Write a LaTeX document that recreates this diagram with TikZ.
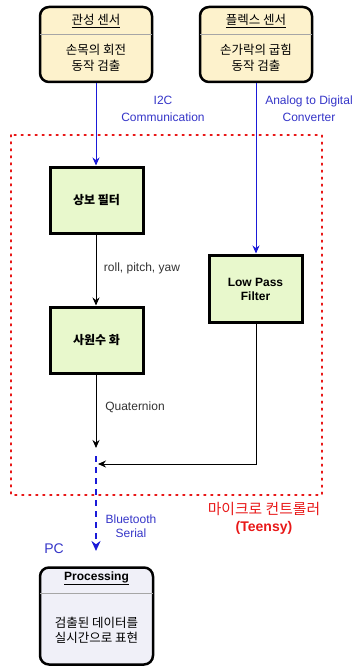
\documentclass[tikz,border=0pt]{standalone}
\usepackage{fontspec}
\setmainfont{Liberation Sans}
\newfontfamily\kr{Noto Sans CJK KR}
\usetikzlibrary{arrows.meta}
\definecolor{boxyellow}{HTML}{FDF2CC}
\definecolor{boxgreen}{HTML}{E8F8CC}
\definecolor{boxlav}{HTML}{F0F0F8}
\definecolor{linkblue}{HTML}{1A1AD8}
\definecolor{lblblue}{HTML}{3535C8}
\definecolor{mcured}{HTML}{E81818}
\tikzset{
  sensorbox/.style={draw=black, line width=2.5pt, rounded corners=9pt, fill=boxyellow,
    minimum width=112pt, minimum height=75pt, inner sep=0pt},
  pcbox/.style={draw=black, line width=2.5pt, rounded corners=9pt, fill=boxlav,
    minimum width=113pt, minimum height=97pt, inner sep=0pt},
  stagebox/.style={draw=black, line width=3pt, fill=boxgreen,
    minimum width=93pt, minimum height=66pt, inner sep=0pt},
  sepline/.style={draw=gray!70, line width=0.9pt},
  kt/.style={font=\kr\fontsize{12.5}{16}\selectfont, align=center, inner sep=0pt},
  ktb/.style={font=\kr\bfseries\fontsize{12}{16}\selectfont, align=center, inner sep=0pt},
  lt/.style={font=\fontsize{12}{16}\selectfont, align=center, inner sep=0pt, text=black!80},
  ltb/.style={font=\bfseries\fontsize{12}{14}\selectfont, align=center, inner sep=0pt},
  bluelbl/.style={font=\fontsize{12}{16.5}\selectfont, align=center, inner sep=0pt, text=lblblue},
  bluelink/.style={draw=linkblue, line width=1pt, -{Stealth[length=8pt,width=7pt]}},
  blacklink/.style={draw=black, line width=1pt, -{Stealth[length=8pt,width=7pt]}},
  btlink/.style={draw=linkblue, line width=2pt, dash pattern=on 6pt off 5pt, -{Stealth[length=10pt,width=9pt]}},
  mcuframe/.style={draw=mcured, line width=1.8pt, dash pattern=on 1.6pt off 5.4pt, line cap=round},
}
\begin{document}
\begin{tikzpicture}[x=1pt,y=-1pt]
\useasboundingbox (0,0) rectangle (354,666);

% microcontroller frame
\draw[mcuframe] (11,135) rectangle (322,495);
\node[font=\kr\fontsize{14.8}{16}\selectfont, text=mcured, inner sep=0pt] (mcu1) at (264,509) {마이크로 컨트롤러};
\node[font=\bfseries\fontsize{14}{16}\selectfont, text=mcured, inner sep=0pt] (mcu2) at (264,528) {(Teensy)};

% sensors
\node[sensorbox] (s1) at (96,44.5) {};
\draw[sepline] (40,34) -- (152,34);
\node[kt] (s1t) at (96,21) {\underline{관성 센서}};
\node[kt] (s1b) at (96,58) {손목의 회전\\동작 검출};

\node[sensorbox] (s2) at (256,44.5) {};
\draw[sepline] (200,34) -- (312,34);
\node[kt] (s2t) at (256,21) {\underline{플렉스 센서}};
\node[kt] (s2b) at (256,58) {손가락의 굽힘\\동작 검출};

% stages
\node[stagebox] (f1) at (96.5,200) {};
\node[ktb] (f1t) at (96.5,200) {상보 필터};
\node[stagebox] (q) at (96.5,340) {};
\node[ktb] (qt) at (96.5,340) {사원수 화};
\node[stagebox, minimum height=67pt] (lpf) at (255.5,288.5) {};
\node[ltb] (lpft) at (255.5,289) {Low Pass\\Filter};

% PC box
\node[pcbox] (pc) at (96.5,616) {};
\draw[sepline] (40,593) -- (153,593);
\node[ltb] (pct) at (96.5,578) {\underline{Processing}};
\node[kt, font=\kr\fontsize{12.5}{15}\selectfont] (pcb) at (96.5,630) {검출된 데이터를\\실시간으로 표현};
\node[font=\fontsize{14}{16}\selectfont, text=lblblue, inner sep=0pt] (pclbl) at (54,549) {PC};

% coordinates
\coordinate (qend) at (96,448);
\coordinate (jn) at (98,464);
\coordinate (lpfturn) at (256,464);
\coordinate (btstart) at (96,456);
\coordinate (btend) at (96,551);

% connectors
\draw[bluelink] (s1.south -| 96,0) -- (f1.north -| 96,0);
\node[bluelbl] (i2c) at (163,109) {I2C\\Communication};
\draw[bluelink] (s2.south -| 256,0) -- (lpf.north -| 256,0);
\node[bluelbl] (adc) at (309,108.5) {Analog to Digital\\Converter};

\draw[blacklink] (f1.south -| 96,0) -- (q.north -| 96,0);
\node[lt] (rpy) at (142,268) {roll, pitch, yaw};
\draw[blacklink] (q.south -| 96,0) -- (qend);
\node[lt] (quat) at (135,407) {Quaternion};
\draw[blacklink] (lpf.south -| 256,0) -- (lpfturn) -- (jn);

\draw[btlink] (btstart) -- (btend);
\node[bluelbl, font=\fontsize{12}{14.5}\selectfont] (bt) at (131,526) {Bluetooth\\Serial};
\end{tikzpicture}
\end{document}
